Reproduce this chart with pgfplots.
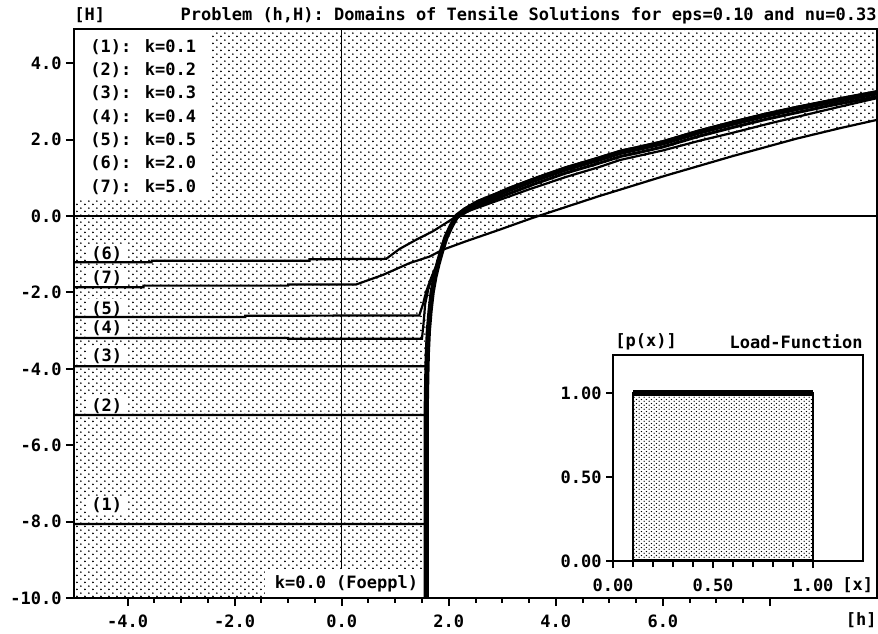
\documentclass[border=0pt]{standalone}
\usepackage{pgfplots}
\pgfplotsset{compat=1.18}
\usepackage{fontspec}
\setmainfont{DejaVu Sans Mono}
\usetikzlibrary{patterns.meta}

\tikzdeclarepattern{
  name=sdots,
  type=uncolored,
  bottom left={(0pt,0pt)},
  top right={(4.2pt,3.6pt)},
  tile size={(4.2pt,3.6pt)},
  code={
    \pgfpathcircle{\pgfpoint{1.05pt}{0.9pt}}{0.5pt}
    \pgfpathcircle{\pgfpoint{3.15pt}{2.7pt}}{0.5pt}
    \pgfusepath{fill}
  }
}
\tikzdeclarepattern{
  name=ddots,
  type=uncolored,
  bottom left={(0pt,0pt)},
  top right={(2.4pt,2pt)},
  tile size={(2.4pt,2pt)},
  code={
    \pgfpathcircle{\pgfpoint{0.6pt}{0.5pt}}{0.38pt}
    \pgfpathcircle{\pgfpoint{1.8pt}{1.5pt}}{0.38pt}
    \pgfusepath{fill}
  }
}

\newcommand{\pf}{\fontsize{8.5}{11.65}\selectfont\bfseries}

\begin{document}
\begin{tikzpicture}
\useasboundingbox (-37pt,-17.5pt) rectangle (402pt,299pt);
\begin{axis}[
  at={(0pt,0pt)}, anchor=south west,
  scale only axis, width=401.5pt, height=284.5pt,
  xmin=-5, xmax=10, ymin=-10, ymax=4.9,
  axis background/.style={pattern=sdots},
  axis on top,
  axis line style={line width=1pt},
  tick align=outside, tick pos=left,
  xtick={-4,-2,0,2,4,6,8},
  xticklabels={-4.0,-2.0,0.0,2.0,4.0,6.0,{}},
  minor x tick num=3,
  ytick={-10,-8,-6,-4,-2,0,2,4},
  yticklabels={-10.0,-8.0,-6.0,-4.0,-2.0,0.0,2.0,4.0},
  major tick length=4pt, minor tick length=2.4pt,
  every tick/.append style={black, line width=1pt},
  ticklabel style={font=\pf, inner sep=0pt},
  xticklabel style={yshift=-4pt},
  yticklabel style={xshift=-2pt},
]
% white (non-tensile) domain
\addplot[draw=none, fill=white] coordinates {
 (1.58,-10)(1.58,-5)(1.59,-4.2)(1.60,-3.6)(1.62,-3.0)(1.65,-2.5)(1.69,-2.0)(1.74,-1.6)(1.80,-1.25)(1.85,-0.92)
 (2.32,-0.66)(2.94,-0.36)(3.56,-0.05)(4.8,0.52)(6.05,1.06)(7.3,1.57)(8.5,2.03)(9.3,2.30)(10,2.52)(10,-10)} -- cycle;
% reference lines
\addplot[black, line width=1pt] coordinates {(-5,0)(10,0)};
\addplot[black, line width=0.8pt] coordinates {(0,-10)(0,4.9)};
% white boxes
\node[fill=white, anchor=north west, minimum width=68pt, minimum height=85.5pt, inner sep=0pt] at (rel axis cs:0,1) {};
\node[anchor=north west, align=left, inner sep=0pt, font=\pf, xshift=8pt, yshift=-5pt] at (rel axis cs:0,1)
 {(1): k=0.1\\(2): k=0.2\\(3): k=0.3\\(4): k=0.4\\(5): k=0.5\\(6): k=2.0\\(7): k=5.0};
\node[fill=white, font=\pf, inner xsep=5pt, inner ysep=3pt] at (axis cs:0.09,-9.62) {k=0.0 (Foeppl)};
\node[fill=white, font=\pf, inner xsep=2pt, inner ysep=1pt] at (axis cs:-4.39,-7.57) {(1)};
\node[fill=white, font=\pf, inner xsep=2pt, inner ysep=1pt] at (axis cs:-4.39,-4.97) {(2)};
\node[fill=white, font=\pf, inner xsep=2pt, inner ysep=1pt] at (axis cs:-4.39,-3.66) {(3)};
\node[fill=white, font=\pf, inner xsep=2pt, inner ysep=1pt] at (axis cs:-4.39,-2.93) {(4)};
\node[fill=white, font=\pf, inner xsep=2pt, inner ysep=1pt] at (axis cs:-4.39,-2.43) {(5)};
\node[fill=white, font=\pf, inner xsep=2pt, inner ysep=1pt] at (axis cs:-4.39,-0.99) {(6)};
\node[fill=white, font=\pf, inner xsep=2pt, inner ysep=1pt] at (axis cs:-4.39,-1.62) {(7)};
% k=0 (Foeppl)
\addplot[black, line width=2.6pt, line join=round] coordinates {
 (1.58,-10)(1.58,-5)(1.59,-4.2)(1.60,-3.6)(1.62,-3.0)(1.65,-2.5)(1.69,-2.0)(1.74,-1.6)(1.80,-1.25)(1.87,-0.9)(1.95,-0.55)(2.05,-0.25)(2.15,0.0)
 (2.3,0.16)(2.55,0.36)(2.9,0.56)(3.13,0.70)(3.6,0.95)(4.19,1.24)(4.7,1.45)(5.23,1.68)(5.5,1.76)(6.0,1.92)(6.67,2.20)(7.3,2.43)(7.91,2.64)(8.5,2.82)(9.14,3.0)(10,3.23)};
% (1) k=0.1
\addplot[black, line width=1.1pt] coordinates {
 (-5,-8.06)(1.58,-8.06)(1.58,-5)(1.59,-4.2)(1.60,-3.6)(1.62,-3.0)(1.65,-2.5)(1.69,-2.0)(1.74,-1.6)(1.80,-1.25)(1.87,-0.9)(1.95,-0.55)(2.05,-0.25)(2.15,0.0)
 (2.3,0.18)(2.55,0.38)(2.9,0.58)(3.13,0.72)(3.6,0.97)(4.19,1.26)(4.7,1.47)(5.23,1.70)(5.5,1.78)(6.0,1.94)(6.67,2.22)(7.3,2.45)(7.91,2.66)(8.5,2.84)(9.14,3.02)(10,3.25)};
% (2) k=0.2
\addplot[black, line width=1.1pt] coordinates {
 (-5,-5.21)(1.58,-5.21)(1.59,-4.2)(1.60,-3.6)(1.62,-3.0)(1.65,-2.5)(1.69,-2.0)(1.74,-1.6)(1.80,-1.25)(1.87,-0.9)(1.95,-0.55)(2.05,-0.25)(2.15,0.0)
 (2.3,0.14)(2.55,0.34)(2.9,0.54)(3.13,0.68)(3.6,0.93)(4.19,1.22)(4.7,1.43)(5.23,1.66)(5.5,1.74)(6.0,1.90)(6.67,2.18)(7.3,2.41)(7.91,2.62)(8.5,2.80)(9.14,2.98)(10,3.21)};
% (3) k=0.3
\addplot[black, line width=1.1pt] coordinates {
 (-5,-3.93)(1.60,-3.93)(1.60,-3.6)(1.62,-3.0)(1.65,-2.5)(1.69,-2.0)(1.74,-1.6)(1.80,-1.25)(1.87,-0.9)(1.95,-0.55)(2.05,-0.25)(2.15,0.0)
 (2.3,0.20)(2.55,0.40)(2.9,0.60)(3.13,0.74)(3.6,0.99)(4.19,1.28)(4.7,1.49)(5.23,1.72)(5.5,1.80)(6.0,1.96)(6.67,2.24)(7.3,2.47)(7.91,2.68)(8.5,2.86)(9.14,3.04)(10,3.27)};
% (4) k=0.4
\addplot[black, line width=1.1pt] coordinates {
 (-5,-3.19)(-1.0,-3.19)(-1.0,-3.21)(1.50,-3.21)(1.53,-2.8)(1.56,-2.3)(1.62,-1.9)(1.70,-1.55)(1.80,-1.25)(1.87,-0.92)(1.95,-0.58)(2.05,-0.28)(2.15,-0.04)
 (2.3,0.10)(2.55,0.28)(2.9,0.47)(3.13,0.60)(3.6,0.85)(4.19,1.14)(4.7,1.35)(5.23,1.58)(5.5,1.66)(6.0,1.82)(6.67,2.10)(7.3,2.33)(7.91,2.54)(8.5,2.72)(9.14,2.91)(10,3.14)};
% (5) k=0.5
\addplot[black, line width=1.1pt] coordinates {
 (-5,-2.64)(-1.8,-2.64)(-1.8,-2.61)(1.45,-2.60)(1.52,-2.3)(1.58,-1.97)(1.67,-1.62)(1.76,-1.32)(1.85,-0.98)(1.94,-0.62)(2.04,-0.30)(2.15,-0.06)
 (2.3,0.08)(2.55,0.26)(2.9,0.45)(3.13,0.58)(3.6,0.83)(4.19,1.12)(4.7,1.33)(5.23,1.56)(5.5,1.64)(6.0,1.80)(6.67,2.08)(7.3,2.31)(7.91,2.52)(8.5,2.70)(9.14,2.89)(10,3.12)};
% (6) k=2.0
\addplot[black, line width=1.1pt] coordinates {
 (-5,-1.21)(-3.55,-1.21)(-3.55,-1.17)(-0.6,-1.17)(-0.6,-1.13)(0.83,-1.12)(1.08,-0.86)(1.39,-0.62)(1.70,-0.40)(1.95,-0.18)(2.15,0.0)
 (2.4,0.15)(2.9,0.40)(3.5,0.70)(4.2,1.03)(4.8,1.28)(5.2,1.47)(6.0,1.72)(6.7,1.98)(7.3,2.18)(8.0,2.43)(8.6,2.63)(9.2,2.83)(10,3.09)};
% (7) k=5.0
\addplot[black, line width=1.1pt] coordinates {
 (-5,-1.86)(-3.7,-1.86)(-3.7,-1.82)(-1.0,-1.82)(-1.0,-1.79)(0.27,-1.79)(0.77,-1.54)(1.27,-1.23)(1.64,-1.06)(1.89,-0.88)
 (2.32,-0.66)(2.94,-0.36)(3.56,-0.05)(4.8,0.52)(6.05,1.06)(7.3,1.57)(8.5,2.03)(9.3,2.30)(10,2.52)};
\end{axis}
% titles outside the main axis
\node[anchor=west, inner sep=0pt, font=\pf] at (0pt,291.5pt) {[H]};
\node[anchor=east, inner sep=0pt, font=\pf] at (401.5pt,291.5pt) {Problem (h,H): Domains of Tensile Solutions for eps=0.10 and nu=0.33};
\node[anchor=east, inner sep=0pt, font=\pf] at (401.5pt,-11pt) {[h]};

% inset: load function
\begin{axis}[
  at={(269.5pt,18.5pt)}, anchor=south west,
  scale only axis, width=125pt, height=103pt,
  xmin=0, xmax=1.25, ymin=0, ymax=1.226,
  axis background/.style={fill=white},
  axis on top,
  axis line style={line width=0.9pt},
  tick align=outside, tick pos=left,
  xtick={0,0.5,1}, xticklabels={0.00,0.50,1.00},
  minor x tick num=4,
  ytick={0,0.5,1}, yticklabels={0.00,0.50,1.00},
  major tick length=3.5pt, minor tick length=3pt,
  every tick/.append style={black, line width=0.9pt},
  ticklabel style={font=\pf, inner sep=0pt},
  xticklabel style={yshift=-5pt},
  yticklabel style={xshift=-2pt},
]
\addplot[draw=none, pattern=ddots] coordinates {(0.1,0)(0.1,1)(1,1)(1,0)} -- cycle;
\addplot[black, line width=0.8pt] coordinates {(0,0)(0.1,0)(0.1,1)(1,1)(1,0)(1.25,0)};
\addplot[black, line width=3.2pt] coordinates {(0.1,1)(1,1)};
\addplot[black, line width=1.6pt] coordinates {(0.1,0)(1,0)};
\end{axis}
\node[anchor=west, inner sep=0pt, font=\pf] at (270.5pt,128pt) {[p(x)]};
\node[anchor=east, inner sep=0pt, font=\pf] at (394.5pt,128pt) {Load-Function};
\node[anchor=west, inner sep=0pt, font=\pf] at (384pt,6.5pt) {[x]};
\end{tikzpicture}
\end{document}
